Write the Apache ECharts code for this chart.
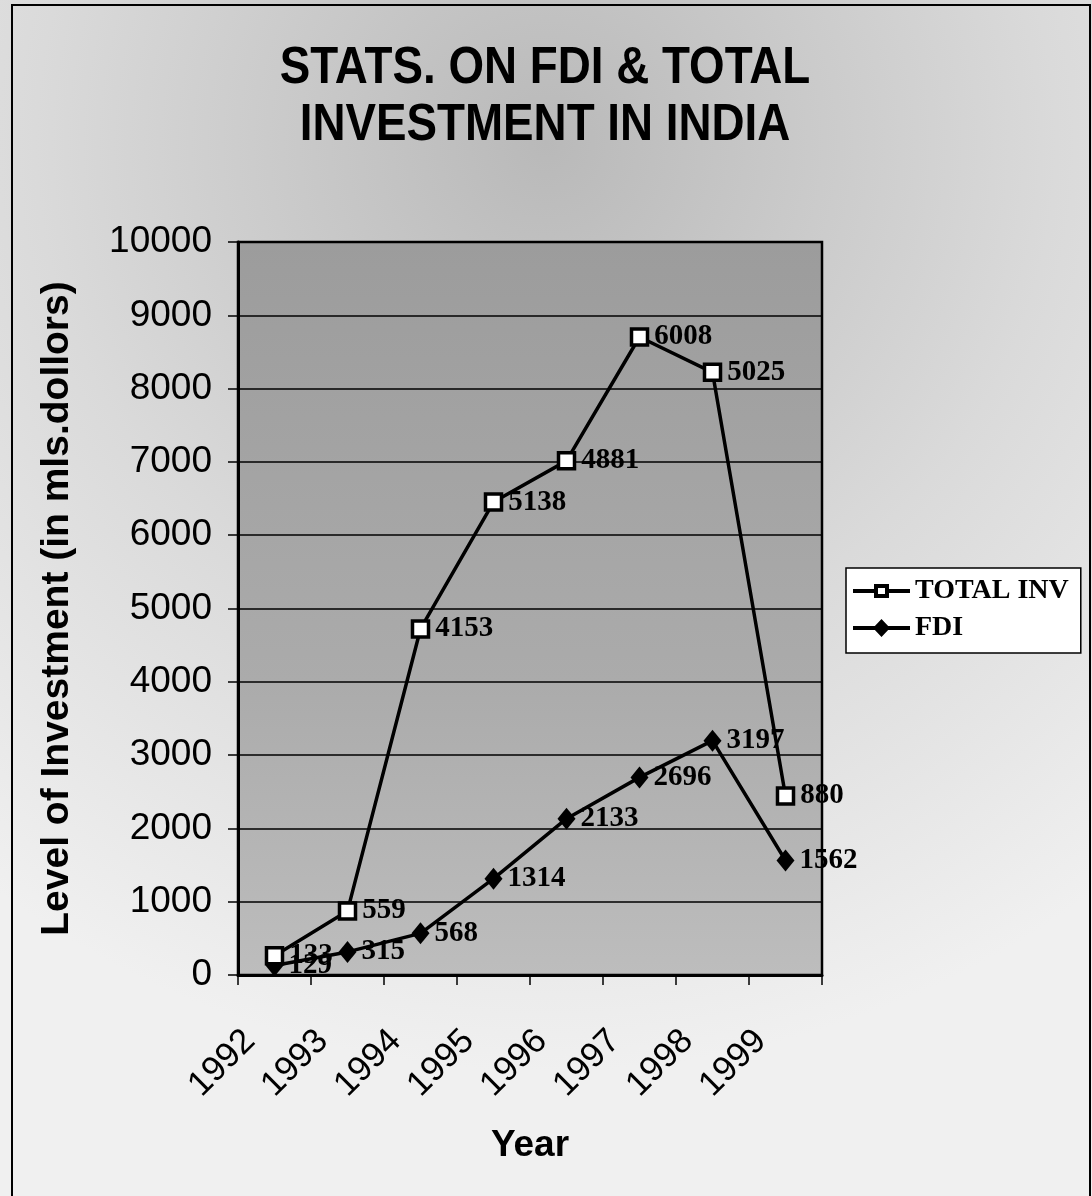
<!DOCTYPE html>
<html>
<head>
<meta charset="utf-8">
<title>Stats. on FDI &amp; Total Investment in India</title>
<script src="https://cdn.jsdelivr.net/npm/echarts@6/dist/echarts.min.js"></script>
<style>
  html, body { margin: 0; padding: 0; background: #ffffff; }
  #chart { width: 1092px; height: 1196px; }
</style>
</head>
<body>
<div id="chart"></div>
<script>
// Year categories on the horizontal axis
const years = ['1992', '1993', '1994', '1995', '1996', '1997', '1998', '1999'];

// Foreign direct investment, millions of dollars
const fdi = [129, 315, 568, 1314, 2133, 2696, 3197, 1562];

// Total investment, stacked on top of FDI
const totalInv = [133, 559, 4153, 5138, 4881, 6008, 5025, 880];

// Value axis range and step
const yMin = 0;
const yMax = 10000;
const yStep = 1000;

const titleLines = ['STATS. ON FDI & TOTAL', 'INVESTMENT IN INDIA'];

const chart = echarts.init(document.getElementById('chart'), null, { renderer: 'canvas' });

const sansFont = 'Liberation Sans, Arial, sans-serif';
const serifFont = 'Liberation Serif, Times New Roman, serif';

// Legend keys: a thick line segment with the series marker in the middle
// (hollow square drawn as a ring so the legend background shows through).
const totalInvIcon = 'path://M0 7H21V11H0Z M36 7H57V11H36Z M21 2H36V16H21Z M25 6V12H32V6Z';
const fdiIcon = 'path://M0 7H57V11H0Z M28.5 0L37 9L28.5 18L20 9Z';

const labelStyle = {
  show: true,
  position: 'right',
  distance: 5,
  color: '#000',
  fontFamily: serifFont,
  fontWeight: 'bold',
  fontSize: 29
};

function titleText(text, y) {
  return {
    type: 'text',
    z: 50,
    x: 545, y: y,
    scaleX: 0.88, originX: 0, originY: 0,
    style: {
      text: text,
      fill: '#000',
      fontFamily: sansFont,
      fontWeight: 'bold',
      fontSize: 52,
      textAlign: 'center',
      textVerticalAlign: 'middle',
      verticalAlign: 'middle'
    }
  };
}

const legendKeyStyle = { color: '#000', borderColor: '#000', borderWidth: 0 };

const option = {
  animation: false,
  graphic: [
    {
      type: 'rect',
      z: -100,
      silent: true,
      shape: { x: 0, y: 0, width: 1092, height: 1196 },
      style: {
        fill: {
          type: 'radial', x: 0.5, y: 0.12, r: 0.85,
          colorStops: [
            { offset: 0, color: '#b9b9b9' },
            { offset: 0.55, color: '#dadada' },
            { offset: 1, color: '#f0f0f0' }
          ]
        }
      }
    },
    {
      type: 'rect',
      z: 50,
      silent: true,
      shape: { x: 12, y: 5, width: 1078, height: 1200 },
      style: { fill: 'none', stroke: '#000', lineWidth: 2 }
    },
    titleText(titleLines[0], 69),
    titleText(titleLines[1], 126)
  ],
  grid: {
    left: 238,
    right: 270,
    top: 242,
    bottom: 221,
    show: true,
    borderColor: '#000',
    borderWidth: 2.5,
    backgroundColor: {
      type: 'linear', x: 0, y: 0, x2: 0, y2: 1,
      colorStops: [
        { offset: 0, color: '#9c9c9c' },
        { offset: 0.6, color: '#ababab' },
        { offset: 1, color: '#bdbdbd' }
      ]
    }
  },
  legend: {
    data: [
      { name: 'TOTAL INV', icon: totalInvIcon, itemStyle: legendKeyStyle },
      { name: 'FDI', icon: fdiIcon, itemStyle: legendKeyStyle }
    ],
    orient: 'vertical',
    left: 846,
    top: 568,
    itemWidth: 57,
    itemHeight: 18,
    itemGap: 9,
    symbolKeepAspect: true,
    padding: [9, 12, 11, 7],
    backgroundColor: '#ffffff',
    borderColor: '#000',
    borderWidth: 1.5,
    textStyle: {
      color: '#000',
      fontFamily: serifFont,
      fontWeight: 'bold',
      fontSize: 28
    }
  },
  xAxis: {
    type: 'category',
    data: years,
    boundaryGap: true,
    name: 'Year',
    nameLocation: 'middle',
    nameGap: 152,
    nameTextStyle: {
      color: '#000',
      fontFamily: sansFont,
      fontWeight: 'bold',
      fontSize: 37
    },
    axisLine: { show: true, lineStyle: { color: '#000', width: 3 } },
    axisTick: { show: true, length: 10, lineStyle: { color: '#000', width: 1.5 } },
    axisLabel: {
      rotate: 45,
      interval: 0,
      margin: 36,
      padding: [0, 35, 0, 0],
      color: '#000',
      fontFamily: sansFont,
      fontSize: 35
    }
  },
  yAxis: {
    type: 'value',
    min: yMin,
    max: yMax,
    interval: yStep,
    name: 'Level of Investment (in mls.dollors)',
    nameLocation: 'middle',
    nameGap: 161,
    nameTextStyle: {
      color: '#000',
      fontFamily: sansFont,
      fontWeight: 'bold',
      fontSize: 39
    },
    axisLine: { show: true, lineStyle: { color: '#000', width: 3 } },
    axisTick: { show: true, length: 10, lineStyle: { color: '#000', width: 1.5 } },
    axisLabel: {
      margin: 26,
      color: '#000',
      fontFamily: sansFont,
      fontSize: 37,
      formatter: function (v) { return String(v); }
    },
    splitLine: { show: true, lineStyle: { color: '#000', width: 1.5 } }
  },
  series: [
    {
      name: 'FDI',
      type: 'line',
      stack: 'investment',
      data: fdi,
      symbol: 'diamond',
      symbolSize: [18, 22],
      showAllSymbol: true,
      itemStyle: { color: '#000' },
      lineStyle: { color: '#000', width: 3.5 },
      label: labelStyle,
      z: 3
    },
    {
      name: 'TOTAL INV',
      type: 'line',
      stack: 'investment',
      data: totalInv,
      symbol: 'rect',
      symbolSize: 16,
      showAllSymbol: true,
      itemStyle: { color: '#ffffff', borderColor: '#000', borderWidth: 3.5 },
      lineStyle: { color: '#000', width: 3.5 },
      label: labelStyle,
      z: 4
    }
  ]
};

chart.setOption(option);
</script>
</body>
</html>
